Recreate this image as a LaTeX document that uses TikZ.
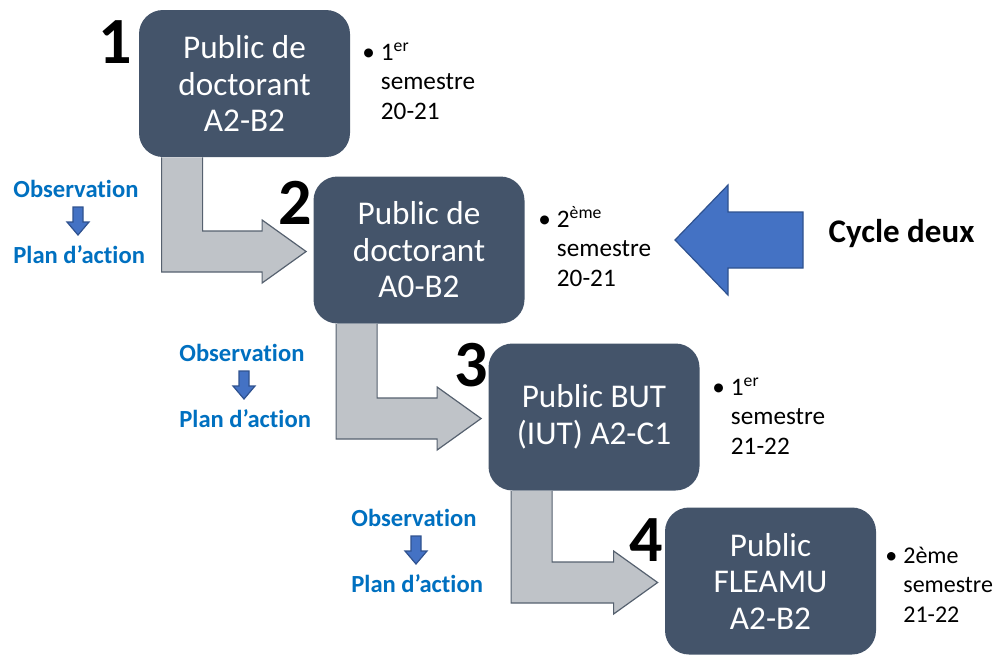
\documentclass[tikz,border=0pt]{standalone}
\usepackage{fontspec}
\setmainfont{Carlito}[Ligatures={TeX,NoCommon}]
\usepackage{xcolor}
\usetikzlibrary{calc}

\definecolor{boxgray}{HTML}{44546A}
\definecolor{elbowfill}{HTML}{BFC3C8}
\definecolor{elbowline}{HTML}{56616F}
\definecolor{arrowblue}{HTML}{4472C4}
\definecolor{arrowline}{HTML}{2F528F}
\definecolor{textblue}{HTML}{0070C0}

\begin{document}
\begin{tikzpicture}[x=0.5pt, y=-0.5pt,
    box/.style={fill=boxgray, rounded corners=12pt, minimum width=105.5pt, minimum height=73.5pt,
        text=white, align=center, font=\fontsize{16.6}{18.25}\selectfont},
    num/.style={inner sep=0pt, font=\fontsize{33}{33}\selectfont\bfseries},
    note/.style={inner sep=0pt, anchor=base west, font=\fontsize{12.6}{14.75}\selectfont},
    obs/.style={inner sep=0pt, anchor=base west, text=textblue, font=\fontsize{12.3}{14}\selectfont\bfseries},
    elbow/.style={fill=elbowfill, draw=elbowline, line width=0.6pt},
    bluearrow/.style={fill=arrowblue, draw=arrowline, line width=0.6pt}]
    \useasboundingbox (0,0) rectangle (994,654);

    % Publics
    \node[box] (pub1) at (244.5,83.5) {Public de\\doctorant\\A2-B2};
    \node[box] (pub2) at (419,250) {Public de\\doctorant\\A0-B2};
    \node[box] (pub3) at (594,417) {Public BUT\\(IUT) A2-C1};
    \node[box] (pub4) at (770.5,581) {Public\\FLEAMU\\A2-B2};

    % Numbers
    \node[num] (n1) at (115,42) {1};
    \node[num] (n2) at (295,202.5) {2};
    \node[num] (n3) at (471,365) {3};
    \node[num] (n4) at (646,540) {4};

    % Semesters
    \node[note] (sem1) at (362,60) {\begin{tabular}[t]{@{}l@{\hspace{3pt}}l@{}}\textbullet & 1\textsuperscript{er}\\ & semestre\\ & 20-21\end{tabular}};
    \node[note] (sem2) at (538,227) {\begin{tabular}[t]{@{}l@{\hspace{3pt}}l@{}}\textbullet & 2\textsuperscript{ème}\\ & semestre\\ & 20-21\end{tabular}};
    \node[note] (sem3) at (712,395) {\begin{tabular}[t]{@{}l@{\hspace{3pt}}l@{}}\textbullet & 1\textsuperscript{er}\\ & semestre\\ & 21-22\end{tabular}};
    \node[note, font=\fontsize{12}{14.75}\selectfont] (sem4) at (885,563) {\begin{tabular}[t]{@{}l@{\hspace{3pt}}l@{}}\textbullet & 2ème\\ & semestre\\ & 21-22\end{tabular}};

    % Elbow arrows between publics
    \foreach \a/\b in {pub1/pub2, pub2/pub3, pub3/pub4} {
        \coordinate (tip) at ($(\b.west)+(-7,1.5)$);
        \draw[elbow] ($(\a.south west)+(64,0)$) |- ($(tip)+(-44,-20.5)$) -- ++(0,-11) -- (tip)
            -- ++(-44,31.5) -- ++(0,-11) -| ($(\a.south west)+(23,0)$);
    }

    % Observation -> Plan d'action
    \foreach \n/\dx/\dy in {1/0/0, 2/166/164, 3/338/329} {
        \begin{scope}[shift={(\dx,\dy)}]
            \node[obs] (obs\n) at (13,197) {Observation};
            \node[obs] (plan\n) at (13,263) {Plan d’action};
            \draw[bluearrow] (73,207) -- (83,207) -- (83,222) -- (89,222) -- (78,235)
                -- (67,222) -- (73,222) -- cycle;
        \end{scope}
    }

    % Cycle deux
    \node[anchor=base, inner sep=0pt, font=\fontsize{16.5}{18}\selectfont\bfseries] (cycle) at (901.5,242) {Cycle deux};
    \draw[bluearrow] (803,212) -- (728,212) -- (728,185) -- (675,240) -- (728,295)
        -- (728,268) -- (803,268) -- cycle;
\end{tikzpicture}
\end{document}
